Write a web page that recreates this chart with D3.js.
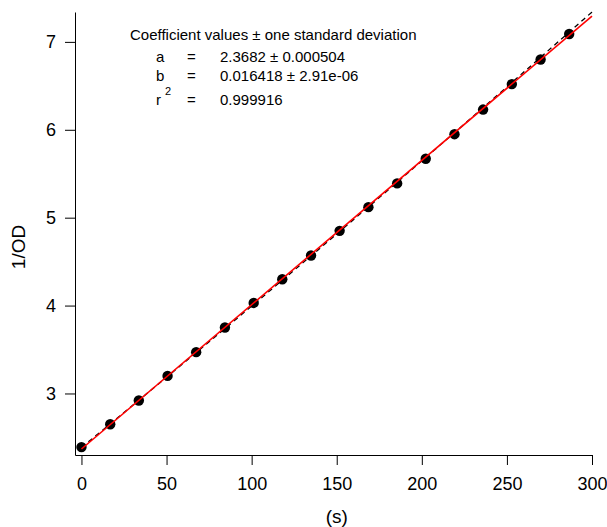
<!DOCTYPE html>
<html>
<head>
<meta charset="utf-8">
<script src="https://cdn.jsdelivr.net/npm/d3@7"></script>
<style>
  body { margin: 0; background: #fff; }
  svg { display: block; font-family: "Liberation Sans", Arial, sans-serif; }
  .axis path, .axis line { stroke: #000; }
  .axis text { font-size: 18px; fill: #000; }
</style>
</head>
<body>
<svg id="chart"></svg>
<script>
// time (s) and measured 1/OD values
const times = [0, 16.9, 33.7, 50.6, 67.4, 84.3, 101.2, 118.0, 134.9, 151.7, 168.6, 185.5, 202.3, 219.2, 236.0, 252.9, 269.8, 286.6];
const values = [2.39, 2.65, 2.92, 3.20, 3.47, 3.75, 4.03, 4.30, 4.57, 4.85, 5.12, 5.39, 5.67, 5.95, 6.23, 6.52, 6.80, 7.09];

// linear fit (red), end points
const fitX = [0, 300];
const fitY = [2.3682, 7.2936];

// dashed black curve
const dashX = [0, 50, 100, 150, 200, 250, 300];
const dashY = [2.385, 3.184, 3.994, 4.815, 5.646, 6.488, 7.34];

const xTicks = [0, 50, 100, 150, 200, 250, 300];
const yTicks = [3, 4, 5, 6, 7];

const coefLines = [
  { name: 'a', val: '2.3682 \u00b1 0.000504' },
  { name: 'b', val: '0.016418 \u00b1 2.91e-06' },
  { name: 'r', sup: '2', val: '0.999916' }
];

class FitChart {
  constructor(_config) {
    this.config = {
      parentElement: _config.parentElement,
      containerWidth: _config.containerWidth || 607,
      containerHeight: _config.containerHeight || 527,
      margin: { top: 12, bottom: 72, right: 15, left: 75 }
    };
    this.initVis();
  }

  initVis() {
    let vis = this;
    const m = vis.config.margin;
    vis.width = vis.config.containerWidth - m.left - m.right;
    vis.height = vis.config.containerHeight - m.top - m.bottom;

    vis.svg = d3.select(vis.config.parentElement)
      .attr('width', vis.config.containerWidth)
      .attr('height', vis.config.containerHeight);

    vis.chart = vis.svg.append('g')
      .attr('transform', `translate(${m.left},${m.top})`);

    vis.xScale = d3.scaleLinear()
      .domain([-3.8, 300])
      .range([0, vis.width]);

    vis.yScale = d3.scaleLinear()
      .domain([2.3, 7.34])
      .range([vis.height, 0]);

    vis.xAxis = d3.axisBottom(vis.xScale)
      .tickValues(xTicks)
      .tickFormat(d3.format('d'))
      .tickSize(10)
      .tickSizeOuter(0)
      .tickPadding(12);

    vis.yAxis = d3.axisLeft(vis.yScale)
      .tickValues(yTicks)
      .tickFormat(d3.format('d'))
      .tickSize(10)
      .tickSizeOuter(0)
      .tickPadding(9);

    vis.chart.append('g')
      .attr('class', 'axis x-axis')
      .attr('transform', `translate(0,${vis.height})`)
      .call(vis.xAxis);

    vis.chart.append('g')
      .attr('class', 'axis y-axis')
      .call(vis.yAxis);

    // dashed curve
    const dashLine = d3.line()
      .x((d, i) => vis.xScale(dashX[i]))
      .y(d => vis.yScale(d))
      .curve(d3.curveNatural);

    vis.chart.append('path')
      .datum(dashY)
      .attr('d', dashLine)
      .attr('fill', 'none')
      .attr('stroke', '#000')
      .attr('stroke-width', 1.3)
      .attr('stroke-dasharray', '5,4');

    // data points
    vis.chart.selectAll('.pt')
      .data(values)
      .enter()
    .append('circle')
      .attr('class', 'pt')
      .attr('cx', (d, i) => vis.xScale(times[i]))
      .attr('cy', d => vis.yScale(d))
      .attr('r', 5.2)
      .attr('fill', '#000');

    // red fit line
    const fitLine = d3.line()
      .x((d, i) => vis.xScale(fitX[i]))
      .y(d => vis.yScale(d));

    vis.chart.append('path')
      .datum(fitY)
      .attr('d', fitLine)
      .attr('fill', 'none')
      .attr('stroke', '#ff0000')
      .attr('stroke-width', 1.6);

    // axis labels
    vis.svg.append('text')
      .attr('x', m.left + vis.xScale(150))
      .attr('y', 523)
      .attr('text-anchor', 'middle')
      .attr('font-size', '19px')
      .text('(s)');

    vis.svg.append('text')
      .attr('transform', 'translate(25,247) rotate(-90)')
      .attr('text-anchor', 'middle')
      .attr('font-size', '19px')
      .text('1/OD');

    // coefficient box
    const ann = vis.svg.append('g').attr('font-size', '15px');
    ann.append('text')
      .attr('x', 130).attr('y', 40)
      .text('Coefficient values \u00b1 one standard deviation');

    const rowY = [62, 81, 105];
    coefLines.forEach((c, i) => {
      const t = ann.append('text').attr('x', 156).attr('y', rowY[i]);
      t.text(c.name);
      if (c.sup) {
        ann.append('text')
          .attr('x', 165).attr('y', rowY[i] - 10)
          .attr('font-size', '11px')
          .text(c.sup);
      }
      ann.append('text').attr('x', 187).attr('y', rowY[i]).text('=');
      ann.append('text').attr('x', 220).attr('y', rowY[i]).text(c.val);
    });
  }
}

new FitChart({ parentElement: '#chart' });
</script>
</body>
</html>
